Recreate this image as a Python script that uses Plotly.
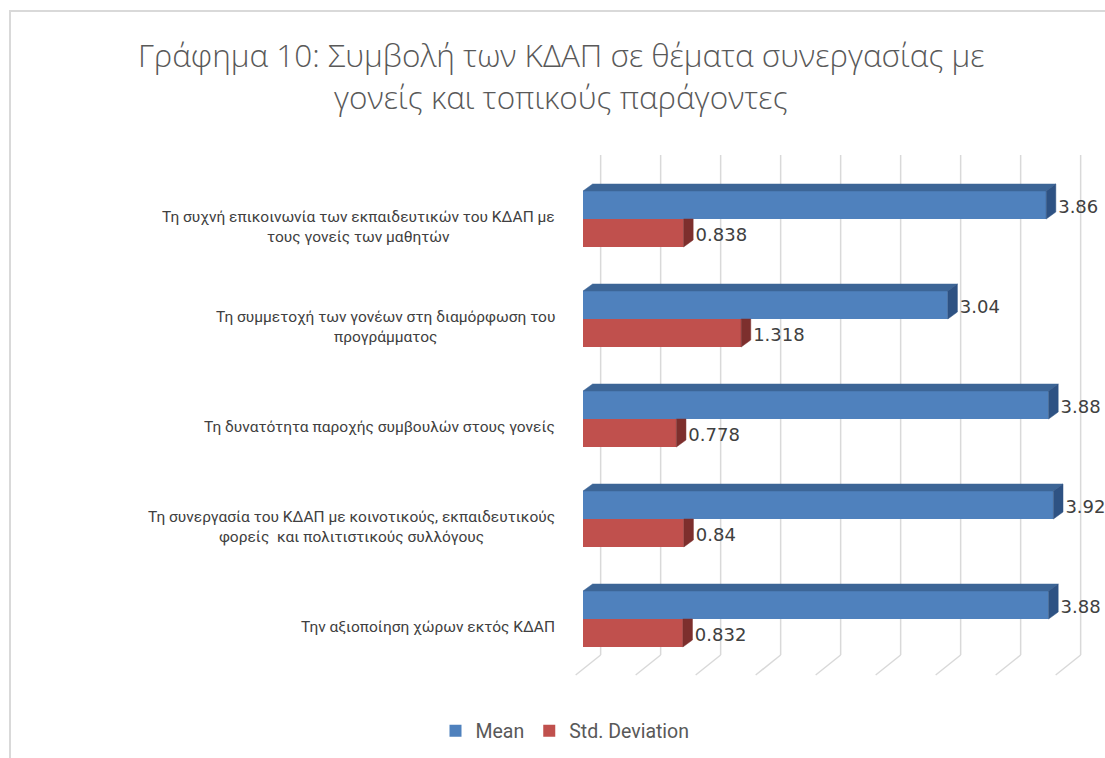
import plotly.graph_objects as go

# data
categories = [
    "Τη συχνή επικοινωνία των εκπαιδευτικών του ΚΔΑΠ με<br>τους γονείς των μαθητών",
    "Τη συμμετοχή των γονέων στη διαμόρφωση του<br>προγράμματος",
    "Τη δυνατότητα παροχής συμβουλών στους γονείς",
    "Τη συνεργασία του ΚΔΑΠ με κοινοτικούς, εκπαιδευτικούς<br>φορείς  και πολιτιστικούς συλλόγους",
    "Την αξιοποίηση χώρων εκτός ΚΔΑΠ",
]
mean_vals = [3.86, 3.04, 3.88, 3.92, 3.88]
std_vals = [0.838, 1.318, 0.778, 0.84, 0.832]
mean_labels = ["3.86", "3.04", "3.88", "3.92", "3.88"]
std_labels = ["0.838", "1.318", "0.778", "0.84", "0.832"]
grid_ticks = [0, 0.5, 1, 1.5, 2, 2.5, 3, 3.5, 4]

title_lines = ["Γράφημα 10: Συμβολή των ΚΔΑΠ σε θέματα συνεργασίας με",
               "γονείς και τοπικούς παράγοντες"]

BLUE, BLUE_TOP, BLUE_SIDE = "#4F81BD", "#3C6596", "#2E5283"
RED, RED_SIDE = "#C0504D", "#7D2F2D"
GRID = "#D9D9D9"

W, H = 1105, 758
L, R, T, B = 560, 0, 150, 78
# pixel geometry of the pseudo-3d excel look
x0_px, px_x = 583, 120.0      # front zero and px per unit
y0_px, px_y = 219, 100.0      # front centre of first category, px per category
xmin = -(x0_px - L) / px_x
xmax = (W - R - x0_px) / px_x
ytop = (T - y0_px) / px_y
ybot = (H - B - y0_px) / px_y


def px2paper_x(px):
    return (px - L) / (W - L - R)


def px2paper_y(py):
    return (H - B - py) / (H - T - B)


bw = 0.28            # bar thickness
dx, dy = 0.08, 0.07  # bar depth
wx, wy = 0.147, 0.14  # back wall offset

pos = list(range(len(categories)))
fig = go.Figure()

# back wall gridlines + floor lines
for v in grid_ticks:
    fig.add_shape(type="line", x0=v + wx, x1=v + wx, y0=-0.5 - wy, y1=len(pos) - 0.5 - wy,
                  xref="x", yref="y", line=dict(color=GRID, width=1.5), layer="below")
    fig.add_shape(type="line", x0=v + wx, x1=v + wx - 0.208, y0=len(pos) - 0.5 - wy,
                  y1=len(pos) - 0.5 - wy + 0.2,
                  xref="x", yref="y", line=dict(color=GRID, width=1.5), layer="below")

fig.add_trace(go.Bar(y=[p - bw / 2 for p in pos], x=mean_vals, orientation="h", width=bw,
                     marker=dict(color=BLUE, line=dict(width=0)), name="Mean", hoverinfo="x"))
fig.add_trace(go.Bar(y=[p + bw / 2 for p in pos], x=std_vals, orientation="h", width=bw,
                     marker=dict(color=RED, line=dict(width=0)), name="Std. Deviation", hoverinfo="x"))

# 3d faces
for p, m, s in zip(pos, mean_vals, std_vals):
    faces = [
        ([0, dx, m + dx, m, 0], [p - bw, p - bw - dy, p - bw - dy, p - bw, p - bw], BLUE_TOP),
        ([m, m + dx, m + dx, m, m], [p - bw, p - bw - dy, p - dy, p, p - bw], BLUE_SIDE),
        ([s, s + dx, s + dx, s, s], [p, p, p + bw - dy, p + bw, p], RED_SIDE),
    ]
    for fx, fy, c in faces:
        fig.add_trace(go.Scatter(x=fx, y=fy, fill="toself", fillcolor=c, mode="lines",
                                 line=dict(color=c, width=0.5), showlegend=False, hoverinfo="skip"))

# data labels
label_font = dict(family="DejaVu Sans", size=18, color="#404040")
fig.add_trace(go.Scatter(x=[m + 0.1 for m in mean_vals], y=[p - bw / 2 + 0.03 for p in pos],
                         text=mean_labels, mode="text", textposition="middle right",
                         textfont=label_font, showlegend=False, hoverinfo="skip", cliponaxis=False))
fig.add_trace(go.Scatter(x=[s + 0.1 for s in std_vals], y=[p + bw / 2 + 0.03 for p in pos],
                         text=std_labels, mode="text", textposition="middle right",
                         textfont=label_font, showlegend=False, hoverinfo="skip", cliponaxis=False))

# category labels
for p, c in zip(pos, categories):
    fig.add_annotation(text=c, x=px2paper_x(557), xref="paper", y=p + 0.075, yref="y",
                       xanchor="right", yanchor="middle", align="center", showarrow=False,
                       font=dict(family="Roboto", size=15.5, color="#404040"))

# title
for i, line in enumerate(title_lines):
    fig.add_annotation(text=line, x=px2paper_x(561), xref="paper", y=px2paper_y(55 + 42 * i),
                       yref="paper", xanchor="center", yanchor="middle", showarrow=False,
                       font=dict(family="Open Sans", size=31.5, color="#595959", weight=300))

# outer border
fig.add_shape(type="rect", xref="paper", yref="paper",
              x0=px2paper_x(10), x1=px2paper_x(W + 10),
              y0=px2paper_y(H + 10), y1=px2paper_y(11),
              line=dict(color=GRID, width=2))

fig.update_layout(
    width=W, height=H,
    margin=dict(l=L, r=R, t=T, b=B),
    paper_bgcolor="white", plot_bgcolor="white",
    barmode="overlay",
    showlegend=True,
    legend=dict(orientation="h", x=px2paper_x(565), xanchor="center",
                y=px2paper_y(731), yanchor="middle", itemwidth=30,
                font=dict(family="Roboto", size=19.5, color="#595959")),
)
fig.update_xaxes(range=[xmin, xmax], showgrid=False, zeroline=False, showticklabels=False, ticks="")
fig.update_yaxes(range=[ybot, ytop], showgrid=False, zeroline=False, showticklabels=False, ticks="")

fig.write_html("out.html", config={"displayModeBar": False},
               post_script="document.body.style.margin='0px';")
